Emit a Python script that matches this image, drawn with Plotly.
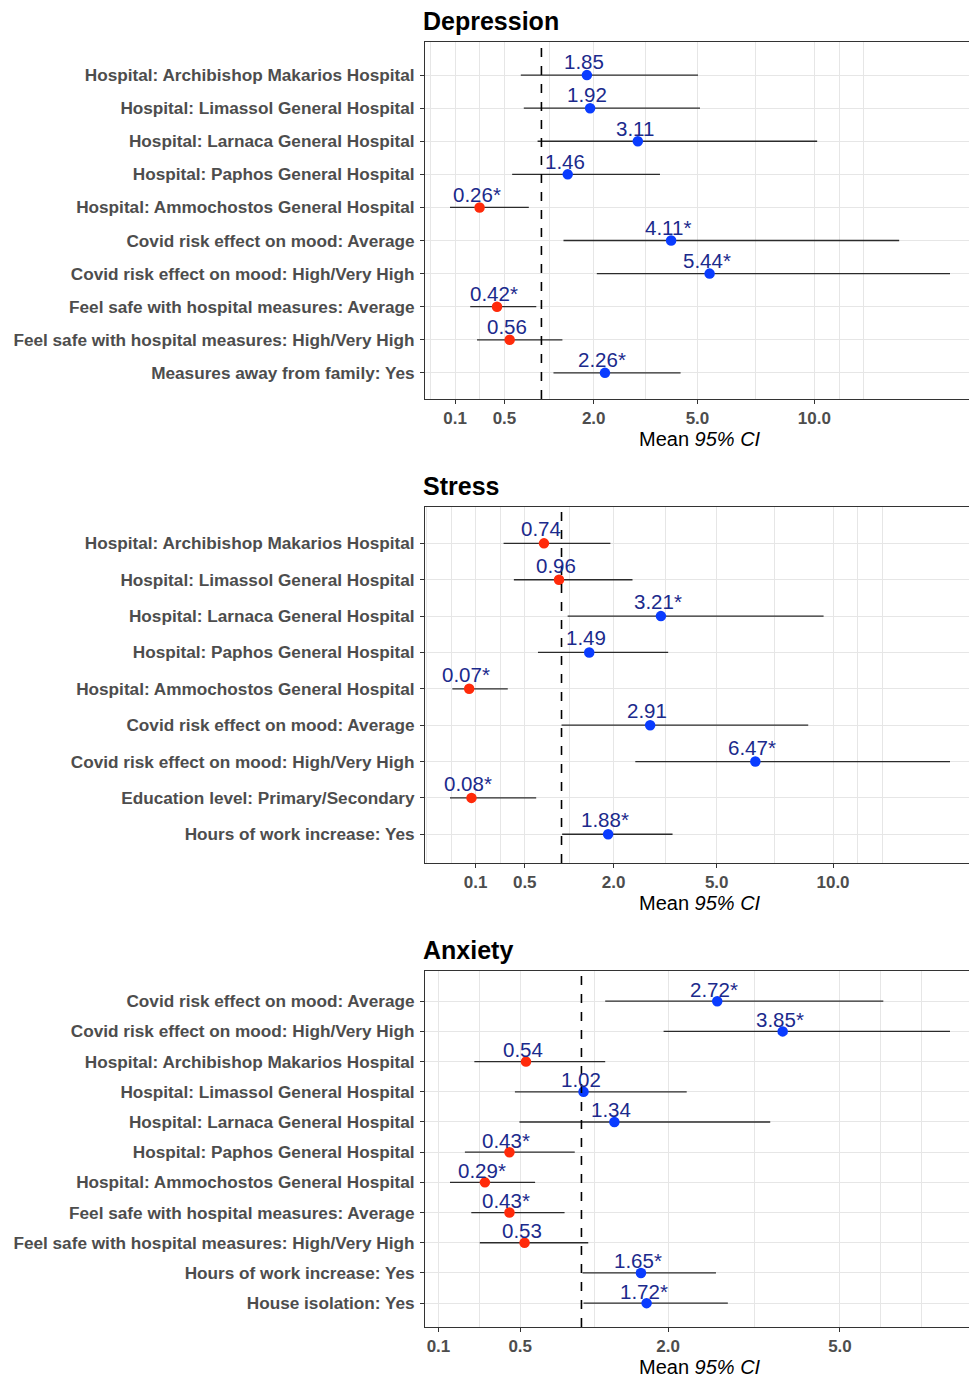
import numpy as np
import plotly.graph_objects as go
from plotly.subplots import make_subplots

# ---------------- data ----------------
dep_labels = [
    "Hospital: Archibishop Makarios Hospital",
    "Hospital: Limassol General Hospital",
    "Hospital: Larnaca General Hospital",
    "Hospital: Paphos General Hospital",
    "Hospital: Ammochostos General Hospital",
    "Covid risk effect on mood: Average",
    "Covid risk effect on mood: High/Very High",
    "Feel safe with hospital measures: Average",
    "Feel safe with hospital measures: High/Very High",
    "Measures away from family: Yes",
]
dep_est = [1.85, 1.92, 3.11, 1.46, 0.26, 4.11, 5.44, 0.42, 0.56, 2.26]
dep_lo = [0.70, 0.74, 0.94, 0.59, 0.076, 1.38, 2.07, 0.19, 0.24, 1.20]
dep_hi = [5.02, 5.09, 10.14, 3.76, 0.81, 14.7, 17.95, 0.92, 1.36, 4.42]
dep_sig = [False, False, False, False, True, True, True, True, False, True]

str_labels = [
    "Hospital: Archibishop Makarios Hospital",
    "Hospital: Limassol General Hospital",
    "Hospital: Larnaca General Hospital",
    "Hospital: Paphos General Hospital",
    "Hospital: Ammochostos General Hospital",
    "Covid risk effect on mood: Average",
    "Covid risk effect on mood: High/Very High",
    "Education level: Primary/Secondary",
    "Hours of work increase: Yes",
]
str_est = [0.74, 0.96, 3.21, 1.49, 0.07, 2.91, 6.47, 0.08, 1.88]
str_lo = [0.29, 0.385, 1.10, 0.66, 0.017, 1.0, 2.52, 0.0125, 1.01]
str_hi = [1.93, 2.45, 9.53, 3.42, 0.327, 8.79, 16.76, 0.637, 3.55]
str_sig = [False, False, True, False, True, False, True, True, True]

anx_labels = [
    "Covid risk effect on mood: Average",
    "Covid risk effect on mood: High/Very High",
    "Hospital: Archibishop Makarios Hospital",
    "Hospital: Limassol General Hospital",
    "Hospital: Larnaca General Hospital",
    "Hospital: Paphos General Hospital",
    "Hospital: Ammochostos General Hospital",
    "Feel safe with hospital measures: Average",
    "Feel safe with hospital measures: High/Very High",
    "Hours of work increase: Yes",
    "House isolation: Yes",
]
anx_est = [2.72, 3.85, 0.54, 1.02, 1.34, 0.43, 0.29, 0.43, 0.53, 1.65, 1.72]
anx_lo = [1.24, 1.94, 0.238, 0.465, 0.495, 0.196, 0.138, 0.224, 0.264, 1.01, 1.02]
anx_hi = [5.97, 7.63, 1.24, 2.26, 3.62, 0.937, 0.606, 0.845, 1.066, 2.70, 2.89]
anx_sig = [True, True, False, False, False, True, True, True, False, True, True]

ticks_a = [0.1, 0.5, 2.0, 5.0, 10.0]
ticks_b = [0.1, 0.5, 2.0, 5.0]
tick_text_a = ["0.1", "0.5", "2.0", "5.0", "10.0"]
tick_text_b = ["0.1", "0.5", "2.0", "5.0"]

titles = ["Depression", "Stress", "Anxiety"]
ref_value = 1.0
# ---------------------------------------

panels = [
    (dep_labels, dep_est, dep_lo, dep_hi, dep_sig, ticks_a, tick_text_a),
    (str_labels, str_est, str_lo, str_hi, str_sig, ticks_a, tick_text_a),
    (anx_labels, anx_est, anx_lo, anx_hi, anx_sig, ticks_b, tick_text_b),
]

OFF = 8  # page body margin
W, H = 977 - OFF, 1379 - OFF
ML, MR, MT, MB = 425 - OFF, 2, 42 - OFF, 1379 - 1327
panel_px = [(42 - OFF, 399 - OFF), (507 - OFF, 863 - OFF), (971 - OFF, 1327 - OFF)]
plot_h = H - MT - MB

RED = "#FF2A0A"
BLUE = "#0A3CFF"
LABEL = "#1B2A8C"
GRID = "#E6E6E6"
AXTXT = "#4D4D4D"
FONT = "Liberation Sans, Arial, sans-serif"

fig = make_subplots(rows=3, cols=1)

annotations = []
shapes = []

for k, (labs, est, lo, hi, sig, tks, tkt) in enumerate(panels):
    n = len(labs)
    rows = np.arange(1, n + 1)
    est = np.array(est)
    lo = np.array(lo)
    hi = np.array(hi)
    sx = np.sqrt(est)
    slo = np.sqrt(lo)
    shi = np.sqrt(hi)
    colors = [RED if e < 1 else BLUE for e in est]

    fig.add_trace(
        go.Scatter(
            x=sx, y=rows, mode="markers",
            marker=dict(size=10.5, color=colors, line=dict(width=0)),
            error_x=dict(type="data", symmetric=False, array=shi - sx,
                         arrayminus=sx - slo, width=0, thickness=1.3,
                         color="#2b2b2b"),
            showlegend=False, hoverinfo="skip",
        ),
        row=k + 1, col=1,
    )

    xa = "x" if k == 0 else f"x{k+1}"
    ya = "y" if k == 0 else f"y{k+1}"

    for i in range(n):
        txt = f"{est[i]:.2f}" + ("*" if sig[i] else "")
        annotations.append(dict(
            x=sx[i], y=rows[i] - 0.4, xref=xa, yref=ya, text=txt,
            showarrow=False, xanchor="center", yanchor="middle", xshift=-3,
            font=dict(family=FONT, size=20.5, color=LABEL),
        ))

    # x range (sqrt space) with 5% expansion
    dmin, dmax = slo.min(), shi.max()
    r = dmax - dmin
    xr = [dmin - 0.05 * r, dmax + 0.05 * r]

    b = list(np.sqrt(tks))
    bd = b[1] - b[0]
    be = list(b)
    if xr[0] < be[0]:
        be = [be[0] - bd] + be
    if xr[1] > be[-1]:
        be = be + [be[-1] + bd]
    minors = []
    for a, c in zip(be[:-1], be[1:]):
        minors += [a, (a + c) / 2]
    minors.append(be[-1])
    minors = [m for m in minors if xr[0] <= m <= xr[1]
              and all(abs(m - bb) > 1e-6 for bb in b)]

    top, bot = panel_px[k]
    dom = [(H - MB - bot) / plot_h, (H - MB - top) / plot_h]

    axkey = "xaxis" if k == 0 else f"xaxis{k+1}"
    aykey = "yaxis" if k == 0 else f"yaxis{k+1}"
    fig.layout[axkey].update(
        range=xr, tickvals=b, ticktext=tkt, showgrid=True, gridcolor=GRID,
        gridwidth=1.3, zeroline=False, ticks="outside", ticklen=4,
        tickcolor="#333333", tickwidth=1,
        tickfont=dict(family=FONT, size=17, color=AXTXT, weight="bold"),
        showline=True, linecolor="#333333", linewidth=1, mirror=True,
        minor=dict(tickvals=minors, showgrid=True, gridcolor=GRID,
                   gridwidth=0.9, ticks=""),
    )
    fig.layout[aykey].update(
        domain=dom, range=[n + 0.79, 0.0], tickvals=list(rows), ticktext=labs,
        showgrid=True, gridcolor=GRID, gridwidth=1.3, zeroline=False,
        ticks="outside", ticklen=4, tickcolor="#333333", tickwidth=1,
        ticklabelstandoff=2,
        tickfont=dict(family=FONT, size=17.2, color=AXTXT, weight="bold"),
        showline=True, linecolor="#333333", linewidth=1, mirror=True,
    )

    shapes.append(dict(
        type="line", xref=xa, yref=f"{ya} domain",
        x0=np.sqrt(ref_value), x1=np.sqrt(ref_value), y0=0, y1=1,
        line=dict(color="black", width=1.6, dash="dash"), layer="above",
    ))

    annotations.append(dict(
        x=0, y=1, xref=f"{xa} domain", yref=f"{ya} domain", text=f"<b>{titles[k]}</b>",
        showarrow=False, xanchor="left", yanchor="bottom", yshift=6, xshift=-3,
        borderpad=0,
        font=dict(family=FONT, size=25, color="black"),
    ))
    annotations.append(dict(
        x=0.5, y=0, xref=f"{xa} domain", yref=f"{ya} domain",
        text="Mean <i>95% CI</i>",
        showarrow=False, xanchor="center", yanchor="middle", yshift=-40,
        font=dict(family=FONT, size=20, color="black"),
    ))

fig.update_layout(
    width=W, height=H,
    margin=dict(l=ML, r=MR, t=MT, b=MB),
    plot_bgcolor="white", paper_bgcolor="white",
    annotations=annotations, shapes=shapes,
    showlegend=False,
)

fig.write_html("out.html")
